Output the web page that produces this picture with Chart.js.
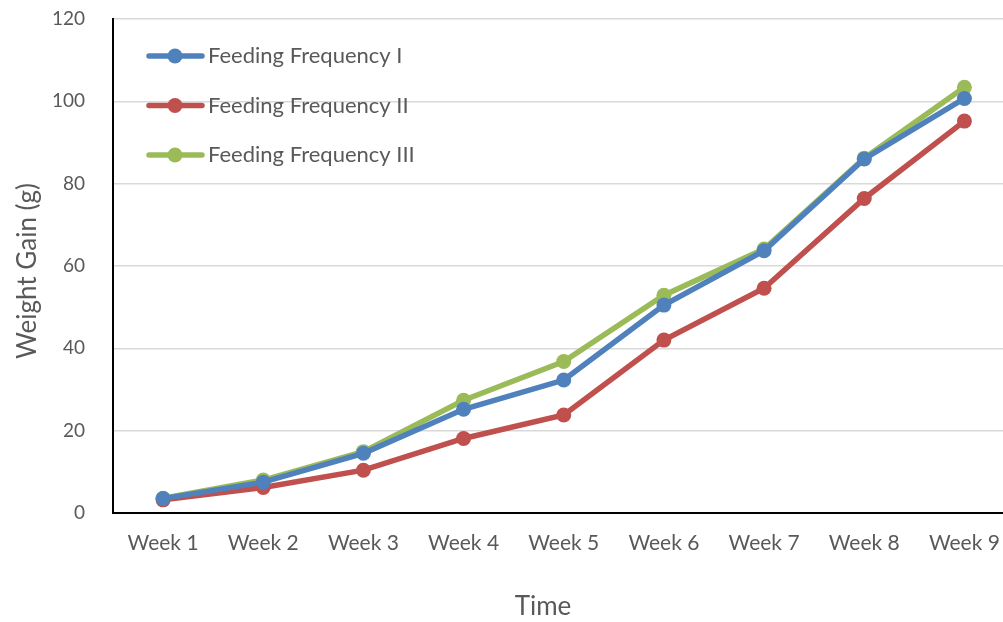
<!DOCTYPE html>
<html lang="en">
<head>
    <meta charset="UTF-8">
    <title>Weight Gain by Feeding Frequency</title>
    <script src="https://cdn.jsdelivr.net/npm/chart.js"></script>
    <style>
        html, body { margin: 0; padding: 0; background: #fff; overflow: hidden; }
        .wrap { width: 1022px; height: 622px; }
    </style>
</head>
<body>
<div class="wrap">
    <canvas id="weightChart" width="1022" height="622"></canvas>
</div>

<script>
    // chart data
    const weeks = ['Week 1', 'Week 2', 'Week 3', 'Week 4', 'Week 5', 'Week 6', 'Week 7', 'Week 8', 'Week 9'];
    const freqOne = [3.5, 7.5, 14.5, 25.2, 32.3, 50.5, 63.7, 86.0, 100.7];
    const freqTwo = [3.2, 6.2, 10.4, 18.1, 23.8, 42.0, 54.6, 76.4, 95.2];
    const freqThree = [3.6, 8.0, 14.9, 27.4, 36.8, 52.9, 64.1, 86.2, 103.4];
    const seriesNames = ['Feeding Frequency I', 'Feeding Frequency II', 'Feeding Frequency III'];
    const yTicks = [0, 20, 40, 60, 80, 100, 120];

    const FONT = 'Lato, "Open Sans", sans-serif';
    const TEXT = '#595959';

    function series(label, data, color) {
        return {
            label: label,
            data: data,
            borderColor: color,
            backgroundColor: color,
            borderWidth: 5.5,
            pointRadius: 7.5,
            pointHoverRadius: 7.5,
            pointBorderWidth: 0,
            tension: 0
        };
    }

    // legend inside the plot + axis titles placed like the original
    const extras = {
        id: 'extras',
        afterDatasetsDraw(chart) {
            const ctx = chart.ctx;
            ctx.save();
            chart.data.datasets.forEach(function (ds, i) {
                const y = 56 + i * 49.5;
                ctx.strokeStyle = ds.borderColor;
                ctx.lineWidth = 5.5;
                ctx.lineCap = 'round';
                ctx.beginPath();
                ctx.moveTo(149, y);
                ctx.lineTo(202, y);
                ctx.stroke();
                ctx.fillStyle = ds.borderColor;
                ctx.beginPath();
                ctx.arc(175, y, 7.5, 0, Math.PI * 2);
                ctx.fill();
                ctx.fillStyle = TEXT;
                ctx.font = '22px ' + FONT;
                ctx.textBaseline = 'middle';
                ctx.textAlign = 'left';
                ctx.fillText(ds.label, 208, y);
            });

            ctx.fillStyle = TEXT;
            ctx.font = '26px ' + FONT;
            ctx.textAlign = 'center';
            ctx.textBaseline = 'middle';
            ctx.fillText('Time', 543, 607);
            ctx.translate(28, 271);
            ctx.rotate(-Math.PI / 2);
            ctx.fillText('Weight Gain (g)', 0, 0);
            ctx.restore();
        }
    };

    const ctx = document.getElementById('weightChart').getContext('2d');
    const weightChart = new Chart(ctx, {
        type: 'line',
        data: {
            labels: weeks,
            datasets: [
                series(seriesNames[0], freqOne, '#4F81BD'),
                series(seriesNames[1], freqTwo, '#C0504D'),
                series(seriesNames[2], freqThree, '#9BBB59')
            ]
        },
        options: {
            responsive: false,
            animation: false,
            layout: { padding: { top: 19, right: 0, bottom: 0, left: 0 } },
            plugins: {
                legend: { display: false },
                tooltip: { enabled: false }
            },
            scales: {
                x: {
                    offset: true,
                    grid: { display: false, drawTicks: false },
                    border: { color: '#000', width: 2 },
                    ticks: { color: TEXT, font: { family: FONT, size: 21 }, padding: 18, maxRotation: 0 },
                    afterFit(scale) { scale.height = 109; }
                },
                y: {
                    min: 0,
                    max: 120,
                    afterBuildTicks(scale) { scale.ticks = yTicks.map(v => ({ value: v })); },
                    grid: { color: '#d9d9d9', lineWidth: 1.5, drawTicks: false },
                    border: { color: '#000', width: 2 },
                    ticks: { color: TEXT, font: { family: FONT, size: 19 }, padding: 28 },
                    afterFit(scale) {
                        scale.width = 113;
                        // tick padding would otherwise push the plot down
                        scale.paddingTop = 0;
                        scale.paddingBottom = 0;
                    }
                }
            }
        },
        plugins: [extras]
    });
</script>
</body>
</html>
